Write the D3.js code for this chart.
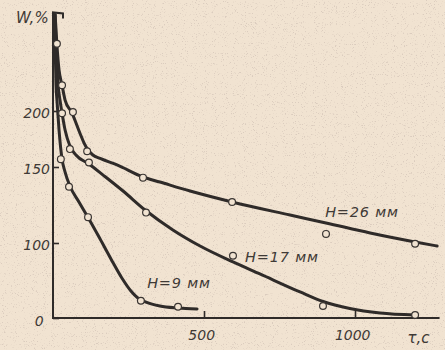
<!DOCTYPE html>
<html>
<head>
<meta charset="utf-8">
<script src="https://cdn.jsdelivr.net/npm/d3@7"></script>
<style>
  html, body { margin: 0; padding: 0; background: #f1e3d1; }
  svg { display: block; }
  text { font-family: "DejaVu Sans", sans-serif; font-style: italic; fill: #3f3a36; }
</style>
</head>
<body>
<svg id="chart" width="445" height="350"></svg>
<script>
// ---- data ----
const yTicks = [0, 100, 150, 200];
const xTicks = [500, 1000];
const seriesNames = ["H=26 мм", "H=17 мм", "H=9 мм"];

// measured points (open circles): [time τ, s ; moisture W, %]
const pointsH26 = [[13,260],[30,223],[66,199],[113,164],[298,143],[593,127],[904,106],[1199,99]];
const pointsH17 = [[30,198],[56,166],[119,154],[308,120],[596,83],[894,16],[1199,4]];
const pointsH9  = [[26,157],[53,137],[116,117],[291,23],[414,15]];

// drawn curves
const curveH26 = [[7,286],[13,259],[20,236.6],[30,223],[40,209.8],[63,198.2],[89,180.4],[103,171.4],[116,165.2],[132,160.7],[156,157.6],[212,151.8],[298,143.4],[354,140.1],[454,134.2],[593,127],[785,118.4],[904,113.2],[1050,106.6],[1199,100.7],[1272,96]];
const curveH17 = [[7,286],[10,259],[17,223],[23,210],[30,198],[40,183],[56,168.8],[76,160.7],[119,152.7],[166,144.7],[232,134.2],[305,121.7],[397,108.6],[487,96],[596,74.7],[685,58.7],[818,34.7],[894,22],[983,12.7],[1083,6.7],[1199,4]];
const curveH9  = [[3,286],[7,259],[10,223],[13,210],[20,183],[30,157],[40,146.7],[56,137.5],[86,127],[119,115.8],[156,102.6],[192,78.7],[228,53.3],[258,36],[281,26.7],[308,21.3],[354,16],[414,13.3],[477,12]];

// ---- layout ----
const svg = d3.select("#chart");
const ink = "#2f2b29";
const paper = "#f1e3d1";

// paper speckle texture
const defs = svg.append("defs");
const f = defs.append("filter").attr("id", "speckle").attr("x", 0).attr("y", 0).attr("width", "100%").attr("height", "100%");
f.append("feTurbulence").attr("type", "fractalNoise").attr("baseFrequency", 0.9).attr("numOctaves", 2).attr("seed", 7).attr("result", "n");
f.append("feColorMatrix").attr("in", "n").attr("type", "matrix")
  .attr("values", "0 0 0 0 0.45  0 0 0 0 0.36  0 0 0 0 0.33  7 0 0 0 -4.3");
svg.append("rect").attr("width", 445).attr("height", 350).attr("fill", paper);
svg.append("rect").attr("width", 445).attr("height", 350).attr("filter", "url(#speckle)").attr("opacity", 0.35);

const x = d3.scaleLinear().domain([0, 1000]).range([53, 355]);
// the printed axis is not uniform: piecewise-linear scale matching tick spacing
const y = d3.scaleLinear().domain([0, 100, 150, 200]).range([318, 243, 167, 111]);

const xMax = 1280, yMax = 288;

// axes lines
svg.append("path")
  .attr("d", `M${x(0)+10},${y(yMax)+6} L${x(0)+10},${y(yMax)+1} L${x(0)},${y(yMax)} L${x(0)},${y(0)} L${x(xMax)},${y(0)}`)
  .attr("fill", "none").attr("stroke", ink).attr("stroke-width", 2);

// y axis ticks
const yAxis = d3.axisLeft(y).tickValues(yTicks).tickSizeInner(-6).tickSizeOuter(0).tickPadding(3)
  .tickFormat(d3.format("d"));
const gy = svg.append("g").attr("transform", `translate(${x(0)},0)`).call(yAxis);
gy.select(".domain").remove();
gy.selectAll(".tick line").attr("stroke", ink).attr("stroke-width", 1.6);
gy.selectAll(".tick text").attr("font-size", 14).attr("fill", "#3f3a36")
  .attr("dy", (d) => d === 0 ? "0.55em" : "0.45em")
  .attr("dx", (d) => d === 0 ? "-0.45em" : "0");

// x axis ticks
const xAxis = d3.axisBottom(x).tickValues(xTicks).tickSizeInner(-7).tickSizeOuter(0).tickPadding(12)
  .tickFormat(d3.format("d"));
const gx = svg.append("g").attr("transform", `translate(0,${y(0)})`).call(xAxis);
gx.select(".domain").remove();
gx.selectAll(".tick line").attr("stroke", ink).attr("stroke-width", 1.6);
gx.selectAll(".tick text").attr("font-size", 14).attr("fill", "#3f3a36").attr("dx", "-0.2em");

// axis titles
svg.append("text").attr("x", x(0) - 37).attr("y", y(yMax) + 11).attr("font-size", 15).text("W,%");
svg.append("text").attr("x", x(1210)).attr("y", y(0) + 25).attr("text-anchor", "middle").attr("font-size", 15).text("τ,c");

// curves
const line = d3.line().x(d => x(d[0])).y(d => y(d[1])).curve(d3.curveMonotoneX);
[curveH26, curveH17, curveH9].forEach(c => {
  svg.append("path").datum(c).attr("d", line)
    .attr("fill", "none").attr("stroke", ink).attr("stroke-width", 3)
    .attr("stroke-linecap", "round").attr("stroke-linejoin", "round");
});

// points
[pointsH26, pointsH17, pointsH9].forEach(p => {
  svg.append("g").selectAll("circle").data(p).join("circle")
    .attr("cx", d => x(d[0])).attr("cy", d => y(d[1])).attr("r", 3.4)
    .attr("fill", paper).attr("stroke", "#3a3532").attr("stroke-width", 1.2);
});

// series labels
const labelPos = [[1023, 117], [758, 75], [417, 40]];
seriesNames.forEach((n, i) => {
  svg.append("text").attr("x", x(labelPos[i][0])).attr("y", y(labelPos[i][1]))
    .attr("text-anchor", "middle").attr("font-size", 14.5).attr("letter-spacing", 0.8).text(n);
});
</script>
</body>
</html>
